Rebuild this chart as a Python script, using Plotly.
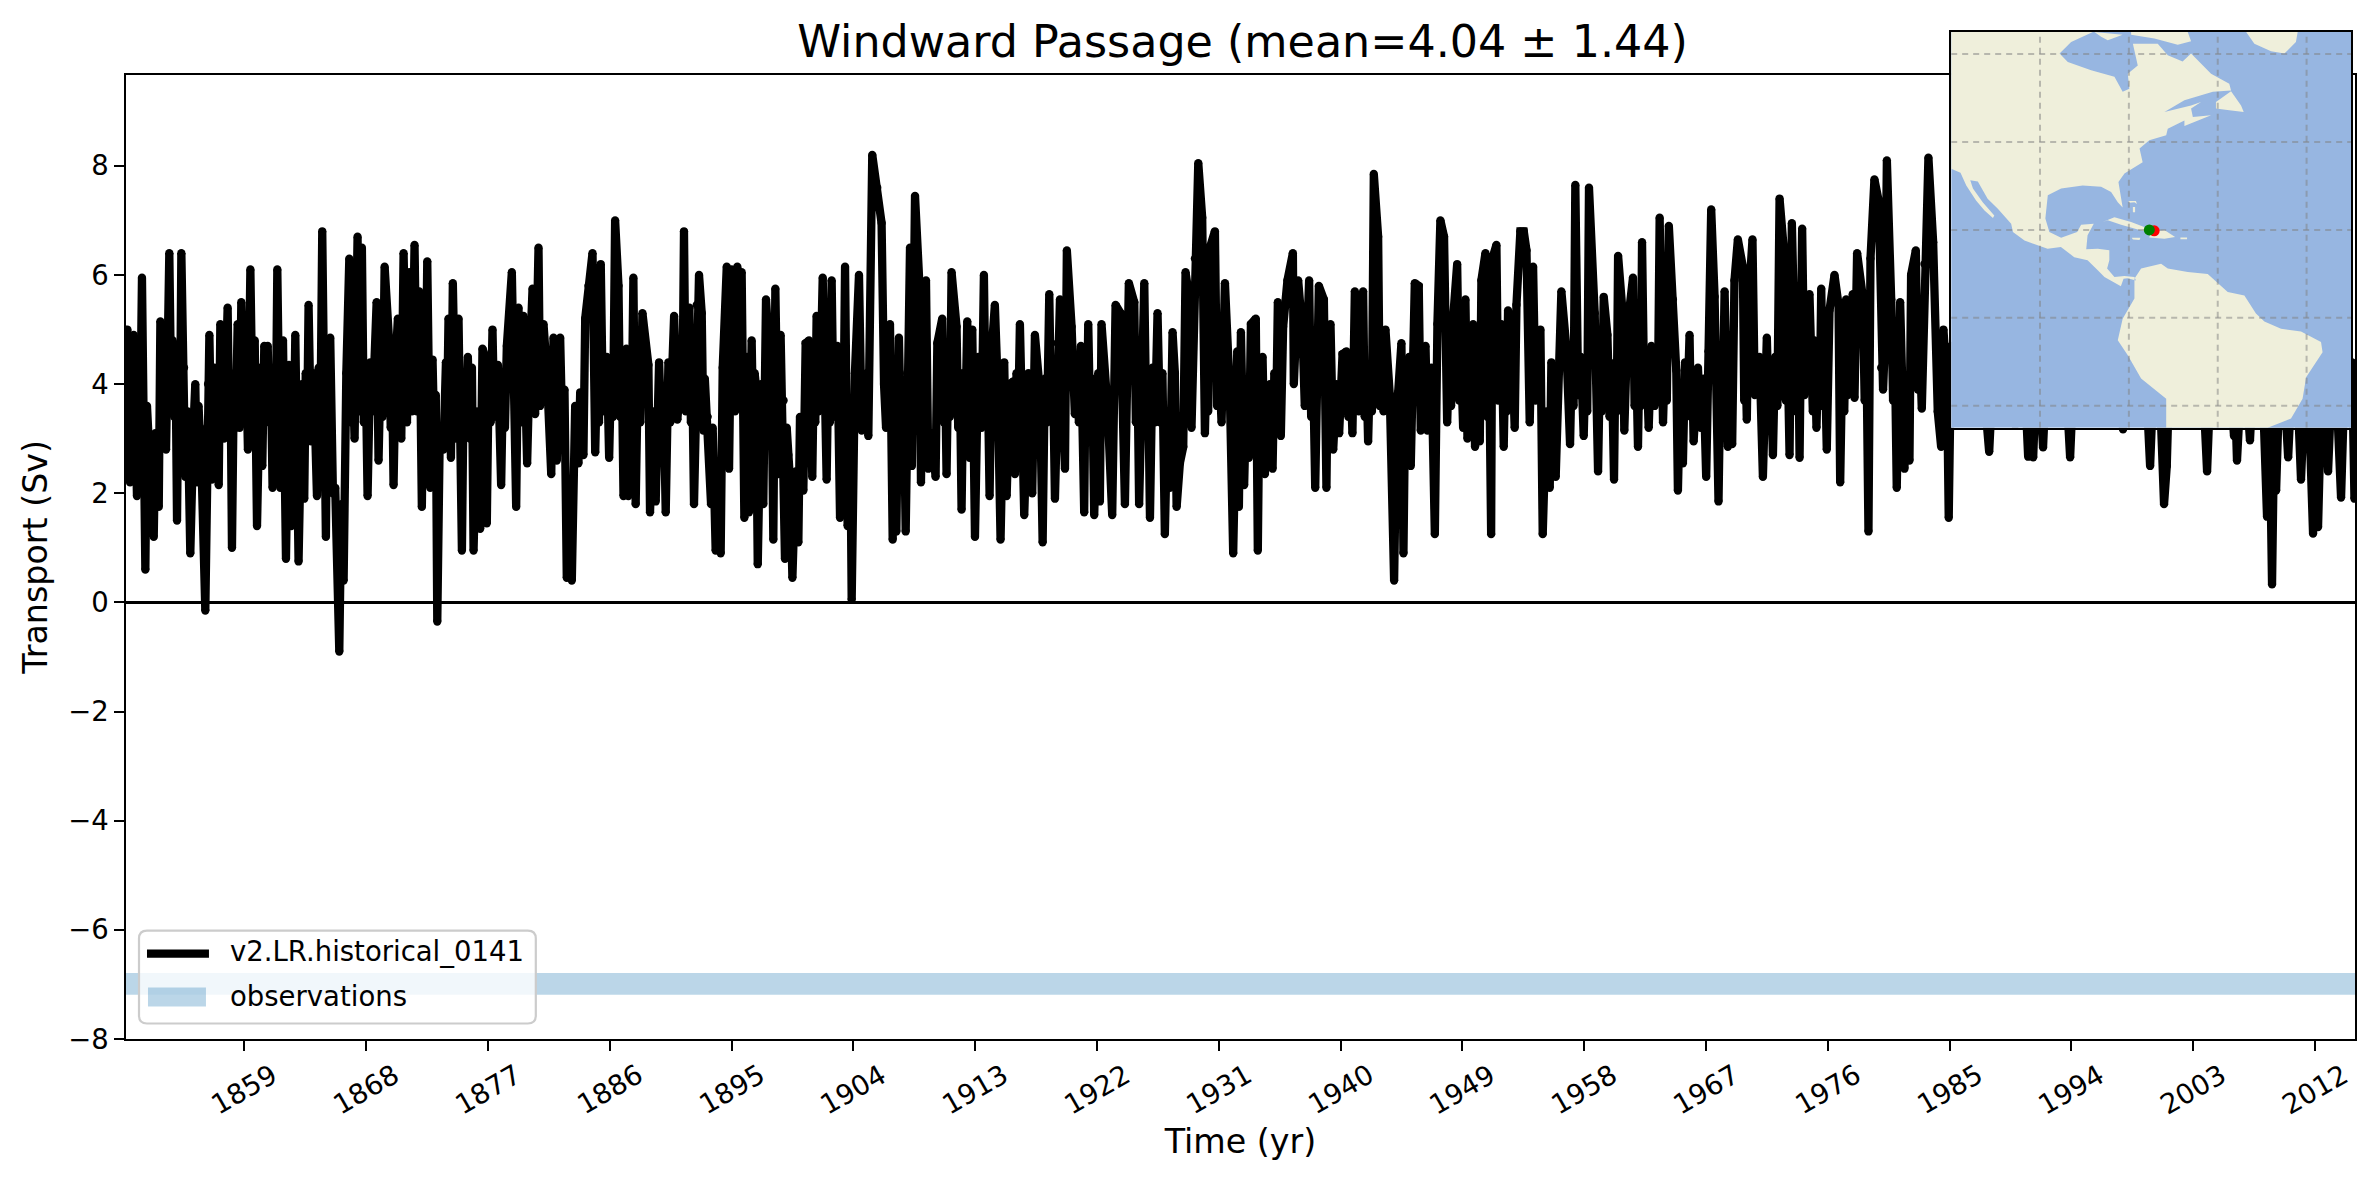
import plotly.graph_objects as go

TITLE = "Windward Passage (mean=4.04 ± 1.44)"
XLABEL = "Time (yr)"
YLABEL = "Transport (Sv)"
RUN_NAME = "v2.LR.historical_0141"
OBS_NAME = "observations"
TICK_YEARS = [1859, 1868, 1877, 1886, 1895, 1904, 1913, 1922, 1931, 1940, 1949, 1958, 1967, 1976, 1985, 1994, 2003, 2012]
Y_TICKS = [-8, -6, -4, -2, 0, 2, 4, 6, 8]
OBS_LOW, OBS_HIGH = -7.19, -6.79

transport_1850_1887 = [
(1850.26,2.3),(1850.36,5.0),(1850.56,2.2),(1850.70,3.9),(1850.83,4.9),(1851.07,1.95),(1851.19,4.2),(1851.31,3.3),(1851.44,5.95),(1851.69,0.6),
(1851.81,3.6),(1851.93,3.0),(1852.06,2.75),(1852.31,1.2),(1852.43,3.1),(1852.68,1.75),(1852.80,5.15),(1852.95,3.2),(1853.07,4.7),(1853.22,2.8),
(1853.46,6.4),(1853.61,3.5),(1853.71,4.8),(1853.82,3.4),(1853.93,4.2),(1854.03,1.5),(1854.14,4.3),(1854.25,3.3),(1854.35,6.4),(1854.45,3.4),
(1854.55,4.3),(1854.64,2.3),(1854.82,3.5),(1855.01,0.9),(1855.26,3.3),(1855.38,4.0),(1855.51,2.2),(1855.62,3.6),(1855.73,3.0),(1855.83,2.6),
(1856.12,-0.15),(1856.22,3.2),(1856.32,4.0),(1856.42,4.9),(1856.61,2.25),(1856.79,4.3),(1856.90,3.2),(1857.00,3.9),(1857.11,2.15),(1857.23,5.1),
(1857.50,3.0),(1857.77,5.4),(1857.88,3.3),(1857.98,4.2),(1858.09,1.0),(1858.23,4.1),(1858.37,3.2),(1858.51,5.1),(1858.66,3.2),(1858.78,5.5),
(1858.95,3.3),(1859.13,4.5),(1859.27,2.8),(1859.45,6.1),(1859.62,3.3),(1859.77,4.8),(1859.94,1.4),(1860.18,4.3),(1860.33,2.5),(1860.48,4.7),
(1860.60,3.5),(1860.73,4.7),(1860.85,3.3),(1860.97,4.1),(1861.09,2.1),(1861.21,4.3),(1861.33,3.2),(1861.44,6.1),(1861.66,2.1),(1861.86,4.8),
(1862.08,0.8),(1862.30,4.35),(1862.47,1.4),(1862.57,4.0),(1862.67,3.2),(1862.77,4.9),(1863.01,0.75),(1863.26,4.0),(1863.43,1.9),(1863.54,4.2),
(1863.65,3.3),(1863.75,5.45),(1863.93,2.95),(1864.12,4.2),(1864.37,1.95),(1864.50,4.3),(1864.63,3.4),(1864.76,6.8),(1865.03,1.2),(1865.14,4.0),
(1865.25,3.1),(1865.35,4.85),(1865.55,2.0),(1865.72,2.1),(1866.02,-0.9),(1866.17,1.8),(1866.34,0.4),(1866.54,4.2),(1866.76,6.3),(1866.89,3.3),
(1867.02,4.2),(1867.15,3.0),(1867.37,6.7),(1867.52,3.5),(1867.69,6.5),(1867.83,3.3),(1867.97,4.3),(1868.11,1.95),(1868.31,4.4),(1868.48,3.5),
(1868.78,5.5),(1868.92,2.6),(1869.07,4.3),(1869.22,3.4),(1869.37,6.15),(1869.71,4.75),(1869.82,3.2),(1869.93,4.0),(1870.03,2.15),(1870.20,4.5),
(1870.35,5.2),(1870.60,3.0),(1870.77,6.4),(1871.02,3.3),(1871.19,6.05),(1871.39,3.5),(1871.58,6.55),(1871.75,3.5),(1871.93,5.7),(1872.12,1.75),
(1872.25,4.4),(1872.38,3.4),(1872.52,6.25),(1872.74,2.1),(1872.91,4.45),(1873.03,3.1),(1873.15,3.8),(1873.26,-0.35),(1873.45,3.2),(1873.72,2.8),
(1873.90,4.4),(1873.99,3.5),(1874.09,5.2),(1874.27,2.65),(1874.41,5.85),(1874.63,3.0),(1874.83,5.2),(1875.08,0.95),(1875.22,4.2),(1875.37,3.1),
(1875.52,4.5),(1875.67,3.0),(1875.82,4.3),(1875.94,0.95),(1876.19,3.5),(1876.43,1.35),(1876.60,4.65),(1876.80,4.5),(1876.92,1.45),(1877.06,4.2),
(1877.20,3.3),(1877.34,5.0),(1877.47,3.4),(1877.60,4.2),(1877.74,4.35),(1877.98,2.15),(1878.12,4.1),(1878.26,3.2),(1878.40,4.7),(1878.77,6.05),
(1879.09,1.75),(1879.26,5.4),(1879.46,3.3),(1879.63,5.25),(1879.90,2.55),(1880.10,4.5),(1880.30,5.75),(1880.49,3.45),(1880.74,6.5),(1880.86,3.6),
(1880.98,4.4),(1881.11,5.1),(1881.36,4.2),(1881.68,2.35),(1881.85,4.85),(1882.09,2.6),(1882.34,4.85),(1882.50,3.1),(1882.66,3.9),(1882.83,0.45),
(1883.00,1.3),(1883.20,0.4),(1883.45,3.6),(1883.69,2.55),(1883.82,3.85),(1884.06,2.7),(1884.19,5.2),(1884.43,5.8),(1884.73,6.4),(1884.93,2.75),
(1885.07,4.3),(1885.21,3.3),(1885.34,6.2),(1885.50,3.5),(1885.65,4.1),(1885.79,4.5),(1885.96,2.65),(1886.10,4.2),(1886.25,3.4),(1886.40,7.0),
(1886.65,5.8),(1886.77,3.4),(1886.90,4.2),(1887.02,1.95),
]

transport_1887_1925 = [
(1887.23,4.65),(1887.38,1.95),(1887.50,4.2),(1887.62,3.3),(1887.75,5.95),(1887.92,1.8),(1888.09,4.3),(1888.26,3.3),(1888.42,5.3),(1888.66,4.65),
(1888.86,4.35),(1888.98,1.65),(1889.23,3.5),(1889.40,1.85),(1889.65,4.4),(1889.81,3.2),(1889.97,3.9),(1890.14,1.65),(1890.34,4.4),(1890.48,3.3),
(1890.62,4.1),(1890.76,5.25),(1891.00,3.35),(1891.20,4.0),(1891.37,3.55),(1891.49,6.8),(1891.62,3.5),(1891.75,4.3),(1891.89,5.4),(1892.00,3.3),
(1892.11,4.0),(1892.23,1.8),(1892.43,5.45),(1892.60,6.0),(1892.80,5.3),(1892.92,3.15),(1893.03,4.1),(1893.14,3.3),(1893.24,3.4),(1893.49,1.8),
(1893.61,3.2),(1893.83,0.95),(1894.03,2.3),(1894.20,0.9),(1894.35,4.3),(1894.65,6.15),(1894.82,2.45),(1895.01,6.1),(1895.26,3.5),(1895.43,6.15),
(1895.58,3.75),(1895.75,6.05),(1895.95,1.55),(1896.15,4.5),(1896.29,1.65),(1896.49,4.8),(1896.60,3.2),(1896.71,4.2),(1896.81,3.95),(1896.94,0.7),
(1897.18,4.0),(1897.35,1.8),(1897.55,5.55),(1897.72,4.85),(1897.84,3.2),(1897.96,4.1),(1898.09,1.15),(1898.24,5.75),(1898.46,2.35),(1898.63,4.9),
(1898.74,3.1),(1898.85,3.7),(1898.95,0.8),(1899.08,3.2),(1899.20,2.7),(1899.32,2.25),(1899.50,0.45),(1899.74,2.4),(1899.94,1.1),(1900.06,3.4),
(1900.18,2.8),(1900.31,2.05),(1900.48,4.75),(1900.73,4.8),(1900.97,2.3),(1901.08,4.2),(1901.19,3.3),(1901.29,5.25),(1901.44,3.5),(1901.59,4.3),
(1901.74,5.95),(1902.03,2.25),(1902.15,4.3),(1902.27,3.3),(1902.40,5.9),(1902.54,3.4),(1902.68,4.2),(1902.82,4.7),(1903.02,1.55),(1903.14,4.1),
(1903.27,3.2),(1903.39,6.15),(1903.58,1.4),(1903.78,3.0),(1903.88,0.05),(1904.12,4.2),(1904.42,6.0),(1904.62,3.15),(1904.75,4.1),(1904.87,3.3),
(1904.99,4.2),(1905.11,3.05),(1905.40,8.2),(1905.77,7.6),(1906.09,6.95),(1906.27,4.0),(1906.42,3.2),(1906.57,4.2),(1906.71,5.1),(1906.91,1.15),
(1907.03,3.5),(1907.18,1.3),(1907.37,4.85),(1907.57,2.5),(1907.72,3.95),(1907.87,1.3),(1907.98,4.2),(1908.09,3.2),(1908.19,6.5),(1908.33,2.5),
(1908.56,7.45),(1908.88,5.85),(1909.00,2.2),(1909.12,4.3),(1909.25,3.3),(1909.37,5.9),(1909.54,2.45),(1909.79,3.1),(1910.08,2.3),(1910.21,4.75),
(1910.57,5.2),(1910.68,3.3),(1910.79,4.1),(1910.89,2.35),(1911.01,4.3),(1911.14,3.4),(1911.26,6.05),(1911.63,5.05),(1911.75,3.2),(1911.87,4.2),
(1912.00,1.7),(1912.14,4.2),(1912.28,3.3),(1912.42,5.15),(1912.59,2.65),(1912.79,5.0),(1912.99,1.2),(1913.23,4.5),(1913.48,3.2),(1913.65,6.0),
(1913.79,3.4),(1913.93,4.2),(1914.07,1.95),(1914.22,4.6),(1914.46,5.45),(1914.66,4.05),(1914.88,1.15),(1915.15,4.4),(1915.33,1.95),(1915.57,4.0),
(1915.82,4.05),(1915.94,2.35),(1916.06,4.2),(1916.18,3.3),(1916.31,5.1),(1916.63,1.6),(1916.80,3.3),(1916.94,4.2),(1917.08,3.2),(1917.22,2.0),
(1917.42,4.9),(1917.79,3.85),(1917.99,1.1),(1918.15,4.1),(1918.32,3.3),(1918.48,5.65),(1918.62,3.5),(1918.76,4.1),(1918.90,1.9),(1919.09,4.75),
(1919.27,5.55),(1919.64,2.45),(1919.78,6.45),(1920.13,5.05),(1920.37,3.45),(1920.52,4.3),(1920.67,3.3),(1920.82,4.7),(1921.06,1.65),(1921.16,4.2),
(1921.26,3.3),(1921.36,5.1),(1921.50,3.3),(1921.65,4.1),(1921.80,1.6),(1922.10,4.2),(1922.22,1.85),(1922.34,5.1),(1922.79,3.55),(1923.13,1.6),
(1923.38,5.45),(1923.75,5.3),(1924.07,1.8),(1924.36,5.85),(1924.76,5.5),(1924.88,3.3),(1925.00,4.2),(1925.12,1.8),
]

transport_1925_1964 = [
(1925.27,4.1),(1925.50,5.85),(1925.64,3.4),(1925.78,4.2),(1925.92,1.55),(1926.10,4.3),(1926.29,3.3),(1926.48,5.3),(1926.66,3.3),(1926.84,4.2),
(1927.02,1.25),(1927.22,3.5),(1927.39,2.1),(1927.59,4.95),(1927.76,4.2),(1927.89,1.75),(1928.13,2.55),(1928.38,2.85),(1928.55,6.05),(1928.87,5.5),
(1928.99,3.2),(1929.24,6.3),(1929.49,8.05),(1929.78,7.05),(1929.98,3.1),(1930.10,4.4),(1930.22,3.5),(1930.35,6.5),(1930.72,6.8),(1930.88,3.6),
(1931.04,4.3),(1931.21,3.3),(1931.46,5.85),(1931.82,3.85),(1932.07,0.9),(1932.37,4.6),(1932.49,1.75),(1932.64,4.95),(1932.88,2.15),(1933.06,4.0),
(1933.23,2.65),(1933.38,5.1),(1933.74,5.2),(1933.89,0.95),(1934.01,3.9),(1934.13,3.2),(1934.24,4.5),(1934.41,2.35),(1934.78,4.0),(1934.98,2.45),
(1935.11,4.2),(1935.24,3.3),(1935.37,5.5),(1935.59,3.05),(1935.76,5.05),(1936.08,5.9),(1936.48,6.4),(1936.55,4.0),(1936.87,5.9),(1937.19,4.95),
(1937.36,3.6),(1937.68,5.9),(1937.83,3.4),(1937.98,4.2),(1938.13,2.1),(1938.26,4.3),(1938.40,5.8),(1938.77,5.55),(1938.96,2.1),(1939.06,4.3),
(1939.16,3.3),(1939.26,5.1),(1939.46,2.8),(1939.70,4.0),(1939.90,3.1),(1940.15,4.55),(1940.44,4.6),(1940.58,3.4),(1940.73,4.2),(1940.88,3.1),
(1941.06,5.7),(1941.35,3.5),(1941.67,5.7),(1941.79,3.4),(1941.91,4.3),(1942.04,2.95),(1942.18,4.3),(1942.32,3.5),(1942.46,7.85),(1942.78,6.7),
(1942.90,3.6),(1943.04,4.4),(1943.18,3.5),(1943.32,5.0),(1943.64,3.8),(1943.96,0.4),(1944.06,3.2),(1944.16,3.7),(1944.26,3.85),(1944.50,4.75),
(1944.65,0.9),(1944.79,3.9),(1944.93,3.2),(1945.07,4.5),(1945.19,2.5),(1945.49,5.85),(1945.78,5.8),(1945.93,3.15),(1946.28,4.7),(1946.42,3.15),
(1946.72,4.3),(1946.97,1.25),(1947.16,5.1),(1947.38,7.0),(1947.65,6.7),(1947.88,3.3),(1948.02,4.4),(1948.17,3.6),(1948.32,5.2),(1948.62,6.2),
(1948.77,3.7),(1948.91,4.4),(1949.06,3.2),(1949.23,5.55),(1949.38,3.0),(1949.52,4.3),(1949.66,3.4),(1949.80,5.1),(1949.94,2.85),(1950.17,4.0),
(1950.29,2.95),(1950.41,5.9),(1950.71,6.4),(1950.85,3.4),(1950.99,4.3),(1951.13,1.25),(1951.22,6.3),(1951.52,6.55),(1951.65,3.7),(1951.77,4.4),
(1951.89,5.1),(1952.06,2.85),(1952.17,4.3),(1952.28,3.5),(1952.38,5.35),(1952.55,3.6),(1952.71,4.4),(1952.87,3.2),(1953.00,5.45),(1953.29,6.8),
(1953.54,6.8),(1953.74,6.45),(1953.98,3.3),(1954.23,6.15),(1954.41,3.7),(1954.59,4.4),(1954.77,5.0),(1954.94,1.25),(1955.21,3.5),(1955.46,2.1),
(1955.58,4.4),(1955.90,2.3),(1956.08,4.2),(1956.32,5.7),(1956.69,4.65),(1956.96,2.9),(1957.09,4.4),(1957.22,3.6),(1957.35,7.65),(1957.56,3.8),
(1957.76,4.5),(1957.97,3.05),(1958.10,4.3),(1958.23,3.5),(1958.36,7.6),(1958.78,5.3),(1959.03,2.4),(1959.17,4.4),(1959.31,3.5),(1959.45,5.6),
(1959.72,4.9),(1959.88,3.4),(1960.05,4.3),(1960.21,2.25),(1960.31,4.4),(1960.41,3.5),(1960.51,6.35),(1960.83,5.35),(1960.97,3.15),(1961.20,5.05),
(1961.61,5.95),(1961.73,3.6),(1961.85,4.4),(1961.98,2.85),(1962.08,4.4),(1962.18,3.6),(1962.28,6.6),(1962.44,3.8),(1962.60,4.5),(1962.77,3.2),
(1962.97,4.7),(1963.21,3.6),(1963.33,4.5),(1963.45,3.7),(1963.58,7.05),(1963.83,3.3),
]

transport_1964_1985 = [
(1963.97,4.5),(1964.11,3.7),(1964.26,6.9),(1964.56,5.55),(1964.81,4.25),(1964.93,2.05),(1965.10,3.9),(1965.30,2.55),(1965.46,4.4),(1965.62,3.5),
(1965.79,4.9),(1965.89,3.4),(1965.99,4.2),(1966.09,2.95),(1966.41,4.3),(1966.61,3.2),(1966.82,4.1),(1967.02,2.3),(1967.19,4.6),(1967.39,7.2),
(1967.64,5.6),(1967.93,1.85),(1968.08,4.3),(1968.23,3.5),(1968.38,5.7),(1968.62,2.85),(1968.82,4.0),(1968.94,2.9),(1969.11,5.9),(1969.36,6.65),
(1969.73,6.15),(1969.83,3.7),(1969.93,4.4),(1970.02,3.35),(1970.15,5.5),(1970.44,6.65),(1970.61,3.8),(1970.78,4.4),(1970.96,4.5),(1971.21,2.3),
(1971.50,4.85),(1971.65,3.4),(1971.80,4.2),(1971.95,2.7),(1972.11,4.5),(1972.28,3.6),(1972.44,7.4),(1972.76,6.45),(1972.90,3.7),(1973.04,4.5),
(1973.18,2.7),(1973.35,6.95),(1973.67,3.5),(1973.79,5.5),(1973.92,2.65),(1974.11,6.85),(1974.29,3.8),(1974.47,4.5),(1974.65,5.65),(1974.90,3.5),
(1975.02,4.8),(1975.17,3.2),(1975.29,4.4),(1975.41,3.6),(1975.52,5.75),(1975.66,3.6),(1975.80,4.3),(1975.93,2.8),(1976.13,5.35),(1976.50,6.0),
(1976.80,5.45),(1976.92,2.2),(1977.07,4.4),(1977.22,3.5),(1977.36,5.55),(1977.48,3.8),(1977.85,5.65),(1977.98,3.75),(1978.17,6.4),(1978.59,5.6),
(1978.73,3.7),(1978.87,4.4),(1979.01,1.3),(1979.16,6.3),(1979.45,7.75),(1979.77,7.35),(1979.95,4.3),(1980.09,3.9),(1980.23,4.8),(1980.37,8.1),
(1980.69,5.55),(1980.83,3.7),(1980.97,4.4),(1981.10,2.1),(1981.35,5.5),(1981.67,2.45),(1981.79,3.75),(1982.04,2.6),(1982.16,6.0),(1982.51,6.45),
(1982.66,3.9),(1982.81,4.6),(1982.95,3.55),(1983.15,6.2),(1983.44,8.15),(1983.79,6.6),(1984.13,3.5),(1984.38,2.85),(1984.55,5.0),(1984.82,3.95),
(1984.94,1.55),(1985.12,4.7),
]

transport_1985_2015 = [
(1985.5,3.4),(1986.0,5.0),(1986.5,3.6),(1987.0,5.5),(1987.5,3.8),(1987.93,2.76),(1988.4,5.2),(1988.9,3.7),(1989.4,5.8),(1989.85,3.25),
(1990.3,5.5),(1990.81,2.67),(1991.0,4.2),(1991.18,2.66),(1991.5,4.8),(1991.91,2.84),(1992.4,5.6),(1992.9,3.6),(1993.4,5.0),(1993.91,2.66),
(1994.4,5.5),(1994.9,3.5),(1995.4,6.1),(1995.9,3.7),(1996.4,5.4),(1996.9,3.6),(1997.4,5.0),(1997.82,3.17),(1998.3,5.9),(1998.8,3.5),
(1999.3,5.2),(1999.82,2.5),(2000.3,5.5),(2000.85,1.8),(2001.05,2.5),(2001.4,5.6),(2001.9,3.7),(2002.4,6.2),(2002.9,3.6),(2003.5,5.2),
(2004.03,2.4),(2004.5,5.5),(2005.0,3.6),(2005.5,5.0),(2006.02,3.05),(2006.12,3.6),(2006.24,2.6),(2006.7,4.8),(2007.2,2.97),(2007.7,5.5),
(2008.2,3.5),(2008.46,1.57),(2008.65,3.3),(2008.83,0.33),(2009.0,3.4),(2009.13,2.05),(2009.5,5.0),(2010.02,2.66),(2010.5,5.2),(2010.97,2.25),
(2011.4,4.8),(2011.86,1.26),(2012.05,3.6),(2012.23,1.38),(2012.6,5.0),(2012.97,2.4),(2013.4,5.0),(2013.93,1.92),(2014.3,5.0),(2014.5,3.4),
(2014.74,4.4),(2014.92,1.9),
]

LAND_NORTH_AMERICA = [(-120,33.9),(-117.9,33.0),(-116.6,30.1),(-114.4,26.7),(-112.5,24.4),(-110.6,22.7),(-110.3,23.3),(-112.9,26.3),(-115.1,29.4),(-115.7,31.3),(-114.0,31.0),(-111.8,27.1),(-109.5,24.8),(-106.5,21.4),(-106.1,19.5),(-103.5,17.6),(-98.3,15.7),(-95.3,16.1),(-92.3,13.8),(-89.3,13.1),(-87.0,10.8),(-85.5,9.3),(-81.8,7.2),(-81.2,8.9),(-80.3,9.0),(-78.4,8.5),(-78.75,9.3),(-81.0,9.5),(-83.25,9.3),(-84.9,11.2),(-84.4,13.1),(-84.4,15.4),(-87.0,15.7),(-89.6,15.6),(-89.3,18.8),(-87.9,21.4),(-90.75,21.2),(-91.65,19.5),(-95.25,18.2),(-97.9,19.5),(-98.8,22.6),(-98.25,27.9),(-95.25,29.4),(-90.4,30.1),(-86.25,29.8),(-84,28.6),(-82.5,26.3),(-81.4,25.1),(-82.35,30.9),(-81,32.8),(-76.9,35.4),(-77.6,38.5),(-75.4,40.4),(-71.6,41.5),(-71.25,43.0),(-67.5,44.9),(-67.5,43.6),(-61.5,46.05),(-65.6,45.7),(-66,47.6),(-63.75,49.1),(-66,48.3),(-72,46.8),(-67.5,49.5),(-61.1,51.4),(-57,51.7),(-57.4,53.25),(-61.5,55.5),(-66,60.1),(-67.9,58.3),(-71.25,59.7),(-73.5,62.3),(-79.1,62.3),(-78,57.4),(-80.25,55.5),(-79.9,52.1),(-81.4,51.4),(-83.25,54.8),(-88.5,56.3),(-93.75,58.2),(-95.6,60.1),(-93,62.7),(-88.1,65),(-120,65)]
LAND_SOUTH_AMERICA = [(-78.75,8.9),(-77.25,11.2),(-72.75,12.3),(-71.25,11.2),(-66.75,10.4),(-62.25,10.0),(-57.75,5.9),(-54,5.1),(-51.4,1.0),(-49.5,-0.8),(-45.75,-2.5),(-41.25,-3.1),(-36.75,-5.5),(-36.4,-7.8),(-40.1,-13.5),(-40.9,-18.4),(-43.5,-22.9),(-48.75,-25),(-71.6,-25),(-71.6,-18.4),(-77.25,-13.8),(-80.25,-8.5),(-82.5,-5.1),(-81.4,-0.2),(-78.75,4.4)]
LAND_GREENLAND = [(-53.6,65),(-42,65),(-42.4,62.7),(-45,60.1),(-48,60.6),(-51.75,62.3)]
LAND_BAFFIN = [(-79.5,65),(-66.75,65),(-66,62.9),(-69,62.1),(-74.25,63.5),(-79.5,64.4)]
LAND_SOUTHAMPTON = [(-87.75,65),(-81.4,64.4),(-84.75,63.1),(-86.25,63.9)]
LAND_NEWFOUNDLAND = [(-60.4,49.1),(-57,51.5),(-54.75,48.3),(-54.15,46.8),(-57.4,47.2),(-60.4,47.6)]
LAND_CUBA = [(-85.9,21.8),(-83.25,22.9),(-79.5,21.8),(-76.1,20.5),(-75.4,19.5),(-77.6,20.0),(-81.75,21.2),(-84.75,22.2)]
LAND_HISPANIOLA = [(-75.15,19.5),(-72,20.0),(-69.6,18.4),(-72,18.0),(-75.4,18.3)]
LAND_JAMAICA = [(-79.35,18.2),(-77.4,18.2),(-77.6,17.7),(-79.1,17.8)]
LAND_PUERTO_RICO = [(-68.4,18.3),(-66.9,18.3),(-66.9,17.85),(-68.4,17.85)]
LAND_BAHAMAS_A = [(-80.1,26.6),(-78.4,26.6),(-78.2,25.9),(-78.75,26.3),(-79.9,26.2)]
LAND_BAHAMAS_B = [(-79.1,25.2),(-78.6,25.2),(-78.6,24),(-79.1,24)]
LAND_RINGS = [LAND_NORTH_AMERICA, LAND_SOUTH_AMERICA, LAND_GREENLAND, LAND_BAFFIN, LAND_SOUTHAMPTON, LAND_NEWFOUNDLAND,
              LAND_CUBA, LAND_HISPANIOLA, LAND_JAMAICA, LAND_PUERTO_RICO, LAND_BAHAMAS_A, LAND_BAHAMAS_B]
GRID_LONS = [-100, -80, -60, -40]
GRID_LATS = [-20, 0, 20, 40, 60]
MAP_LON = (-120, -30)
MAP_LAT = (-25, 65)
SECTION_LON = [-74.3, -75.4]
SECTION_LAT = [19.8, 20.0]
SECTION_COLORS = ["red", "green"]

XRANGE = (1850.26, 2014.96)
YRANGE = (-8.0, 9.67)
FONT = "DejaVu Sans"
TICK = 27.5

all_points = transport_1850_1887 + transport_1887_1925 + transport_1925_1964 + transport_1964_1985 + transport_1985_2015
years = [p[0] for p in all_points]
transport = [p[1] for p in all_points]

fig = go.Figure()
fig.add_trace(go.Scatter(x=[XRANGE[0], XRANGE[1], XRANGE[1], XRANGE[0]], y=[OBS_LOW, OBS_LOW, OBS_HIGH, OBS_HIGH],
                         mode="lines", fill="toself", fillcolor="rgba(31,119,180,0.3)", line=dict(width=0),
                         name=OBS_NAME, showlegend=False, hoverinfo="skip"))
fig.add_trace(go.Scatter(x=years, y=transport, mode="lines", line=dict(color="black", width=8.3),
                         name=RUN_NAME, showlegend=False))
fig.add_trace(go.Scatter(x=years, y=transport, mode="markers", marker=dict(color="black", size=8.3, line=dict(width=0)),
                         showlegend=False, hoverinfo="skip"))

# inset map
fig.add_trace(go.Scatter(x=[MAP_LON[0], MAP_LON[1], MAP_LON[1], MAP_LON[0]], y=[MAP_LAT[0], MAP_LAT[0], MAP_LAT[1], MAP_LAT[1]],
                         mode="lines", fill="toself", fillcolor="#97B6E1", line=dict(width=0),
                         xaxis="x2", yaxis="y2", showlegend=False, hoverinfo="skip"))
land_x, land_y = [], []
for ring in LAND_RINGS:
    land_x += [p[0] for p in ring] + [ring[0][0], None]
    land_y += [p[1] for p in ring] + [ring[0][1], None]
fig.add_trace(go.Scatter(x=land_x, y=land_y, mode="lines", fill="toself", fillcolor="#EFEFDB", line=dict(width=0),
                         xaxis="x2", yaxis="y2", showlegend=False, hoverinfo="skip"))
grid_x, grid_y = [], []
for lon in GRID_LONS:
    grid_x += [lon, lon, None]
    grid_y += [MAP_LAT[0], MAP_LAT[1], None]
for lat in GRID_LATS:
    grid_x += [MAP_LON[0], MAP_LON[1], None]
    grid_y += [lat, lat, None]
fig.add_trace(go.Scatter(x=grid_x, y=grid_y, mode="lines", line=dict(color="rgba(128,128,128,0.5)", width=2, dash="6px,5px"),
                         xaxis="x2", yaxis="y2", showlegend=False, hoverinfo="skip"))
fig.add_trace(go.Scatter(x=SECTION_LON, y=SECTION_LAT, mode="markers", marker=dict(color=SECTION_COLORS, size=11, line=dict(width=0)),
                         xaxis="x2", yaxis="y2", showlegend=False, hoverinfo="skip"))

# page body margin of the browser shifts everything by this many pixels
OFF = 6.5
W, H = 2367, 1172
L, R, T, B = 124 - OFF, 2354 - OFF, 20 - OFF, 1037.5 - OFF
pw, ph = R - L, B - T
main_top = (B - (72.7 - OFF)) / ph


def px(v):
    return (v - OFF - L) / pw


def py(v):
    return (B - (v - OFF)) / ph


fig.update_layout(
    width=W, height=H, autosize=False,
    paper_bgcolor="white", plot_bgcolor="white",
    margin=dict(l=L, r=W - R, t=T, b=H - B, pad=0),
    font=dict(family=FONT, size=TICK, color="black"),
    title=dict(text=TITLE, x=(1241 - OFF) / W, xanchor="center", xref="container",
               y=1 - (39.5 - OFF) / H, yanchor="middle", yref="container", font=dict(size=44.4, family=FONT, color="black")),
    showlegend=False,
    xaxis=dict(domain=[0, 1], range=list(XRANGE), tickmode="array", tickvals=TICK_YEARS, ticktext=[""] * len(TICK_YEARS),
               ticks="outside", ticklen=9.7, tickwidth=2.2, tickcolor="black", showgrid=False, zeroline=False,
               showline=True, linecolor="black", linewidth=2.2, mirror=True, anchor="y",
               title=dict(text=XLABEL, font=dict(size=33.3, family=FONT), standoff=74)),
    yaxis=dict(domain=[0, main_top], range=list(YRANGE), tickmode="array", tickvals=Y_TICKS,
               ticks="outside", ticklen=9.7, tickwidth=2.2, tickcolor="black", showgrid=False,
               zeroline=True, zerolinecolor="black", zerolinewidth=2.8,
               showline=True, linecolor="black", linewidth=2.2, mirror=True, anchor="x",
               tickfont=dict(size=TICK, family=FONT),
               title=dict(text=YLABEL, font=dict(size=33.3, family=FONT), standoff=10)),
    xaxis2=dict(domain=[px(1950), px(2350)], range=list(MAP_LON), anchor="y2", showgrid=False, zeroline=False,
                showticklabels=False, ticks="", showline=True, linecolor="black", linewidth=2.2, mirror=True),
    yaxis2=dict(domain=[py(426), py(30)], range=list(MAP_LAT), anchor="x2", showgrid=False, zeroline=False,
                showticklabels=False, ticks="", showline=True, linecolor="black", linewidth=2.2, mirror=True),
)

# rotated year labels, centred beneath their ticks
for yr in TICK_YEARS:
    fig.add_annotation(x=yr, xref="x", y=py(1088), yref="paper", text=str(yr), textangle=-30, showarrow=False,
                       xanchor="center", yanchor="middle", font=dict(size=TICK, family=FONT, color="black"))

# legend: rounded frame, line sample, band swatch, labels
x0, x1, y0, y1, r = 137, 534, 929, 1022, 8
xs = lambda v: px(v)
ys = lambda v: py(v)
box = (f"M{xs(x0 + r)},{ys(y0)} L{xs(x1 - r)},{ys(y0)} Q{xs(x1)},{ys(y0)} {xs(x1)},{ys(y0 + r)} "
       f"L{xs(x1)},{ys(y1 - r)} Q{xs(x1)},{ys(y1)} {xs(x1 - r)},{ys(y1)} "
       f"L{xs(x0 + r)},{ys(y1)} Q{xs(x0)},{ys(y1)} {xs(x0)},{ys(y1 - r)} "
       f"L{xs(x0)},{ys(y0 + r)} Q{xs(x0)},{ys(y0)} {xs(x0 + r)},{ys(y0)} Z")
fig.add_shape(type="path", path=box, xref="paper", yref="paper", fillcolor="rgba(255,255,255,0.8)",
              line=dict(color="#cccccc", width=2.2), layer="above")
fig.add_shape(type="line", xref="paper", yref="paper", x0=px(145), x1=px(207), y0=py(952), y1=py(952),
              line=dict(color="black", width=8.3), layer="above")
fig.add_shape(type="rect", xref="paper", yref="paper", x0=px(146), x1=px(204), y0=py(986), y1=py(1005),
              fillcolor="rgba(31,119,180,0.3)", line=dict(width=0), layer="above")
fig.add_annotation(x=px(226), xref="paper", y=py(950), yref="paper", text=RUN_NAME, showarrow=False, xanchor="left", yanchor="middle",
                   font=dict(size=TICK, family=FONT, color="black"))
fig.add_annotation(x=px(226), xref="paper", y=py(994), yref="paper", text=OBS_NAME, showarrow=False, xanchor="left", yanchor="middle",
                   font=dict(size=TICK, family=FONT, color="black"))

fig.write_html("out.html")
